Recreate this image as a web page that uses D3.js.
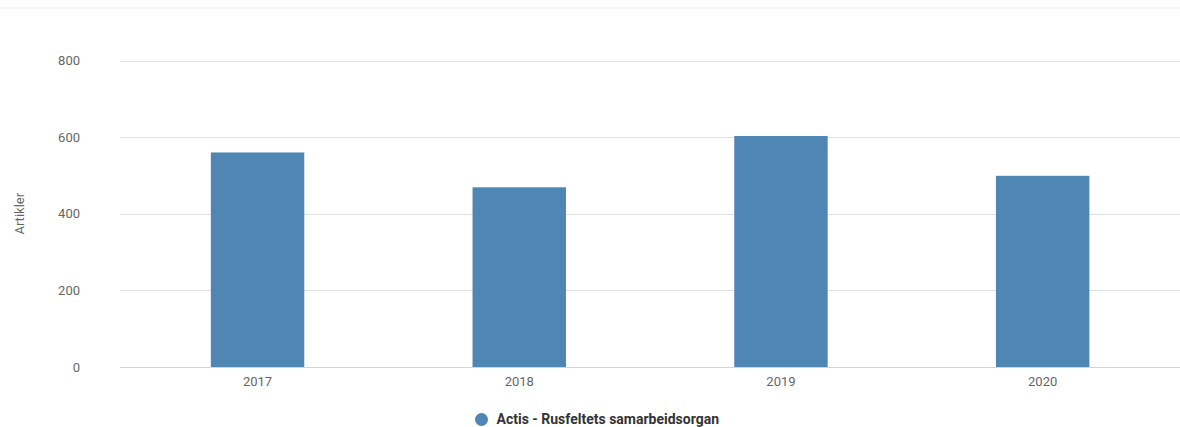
<!DOCTYPE html>
<html>
<head>
<meta charset="utf-8">
<script src="https://cdn.jsdelivr.net/npm/d3@7"></script>
<style>
  body { margin: 0; background: #fff; }
  text { font-family: Roboto, 'Noto Sans', sans-serif; }
</style>
</head>
<body>
<div id="chart"></div>
<script>
const years = ['2017', '2018', '2019', '2020']
const articles = [560, 469, 603, 499]
const yTicks = [0, 200, 400, 600, 800]
const seriesName = 'Actis - Rusfeltets samarbeidsorgan'
const yTitle = 'Artikler'

const width = 1180
const height = 427
const plot = { left: 120, right: 1180, top: 60.5, bottom: 367 }

const svg = d3
  .select('#chart')
  .append('svg')
  .attr('width', width)
  .attr('height', height)

// faint frame line at the top
svg
  .append('line')
  .attr('x1', 0)
  .attr('x2', width)
  .attr('y1', 8)
  .attr('y2', 8)
  .attr('stroke', '#f4f4f4')
  .attr('stroke-width', 2)

const xScale = d3.scaleBand().domain(years).range([126.7, 1173.5]).paddingInner(0.643).paddingOuter(0.3215)
const yScale = d3.scaleLinear().domain([0, 800]).range([plot.bottom, plot.top])

// grid
svg
  .append('g')
  .selectAll('line')
  .data(yTicks.filter((d) => d > 0))
  .enter()
  .append('line')
  .attr('x1', plot.left)
  .attr('x2', plot.right)
  .attr('y1', (d) => Math.round(yScale(d)) + 0.5)
  .attr('y2', (d) => Math.round(yScale(d)) + 0.5)
  .attr('stroke', '#e0e0e0')

// y axis labels
const yAxis = svg
  .append('g')
  .attr('transform', `translate(80, 0)`)
  .call(d3.axisLeft(yScale).tickValues(yTicks).tickSize(0).tickPadding(0))
yAxis.select('.domain').remove()
yAxis.selectAll('text').attr('fill', '#666').style('font-size', '13px')

// bars
svg
  .selectAll('.bar')
  .data(articles)
  .enter()
  .append('rect')
  .attr('class', 'bar')
  .attr('x', (d, i) => xScale(years[i]))
  .attr('y', (d) => yScale(d))
  .attr('width', xScale.bandwidth())
  .attr('height', (d) => yScale(0) - yScale(d))
  .attr('fill', '#4f86b4')

// x axis
const xAxis = svg
  .append('g')
  .attr('transform', `translate(0, ${plot.bottom})`)
  .call(d3.axisBottom(xScale).tickSize(0).tickPadding(10))
xAxis.select('.domain').remove()
xAxis.selectAll('text').attr('fill', '#666').style('font-size', '13px')
svg
  .append('line')
  .attr('x1', plot.left)
  .attr('x2', plot.right)
  .attr('y1', plot.bottom + 0.5)
  .attr('y2', plot.bottom + 0.5)
  .attr('stroke', '#ccd6eb')

// y title
svg
  .append('text')
  .attr('transform', `translate(19, ${(plot.top + plot.bottom) / 2}) rotate(-90)`)
  .attr('text-anchor', 'middle')
  .attr('dy', '0.35em')
  .attr('fill', '#666')
  .style('font-size', '13px')
  .text(yTitle)

// legend
const legend = svg.append('g').attr('transform', 'translate(481.5, 419.5)')
legend.append('circle').attr('r', 6.5).attr('fill', '#4f86b4')
legend
  .append('text')
  .attr('x', 15)
  .attr('dy', '0.35em')
  .attr('fill', '#333')
  .style('font-size', '14px')
  .style('font-weight', 'bold')
  .text(seriesName)
</script>
</body>
</html>
